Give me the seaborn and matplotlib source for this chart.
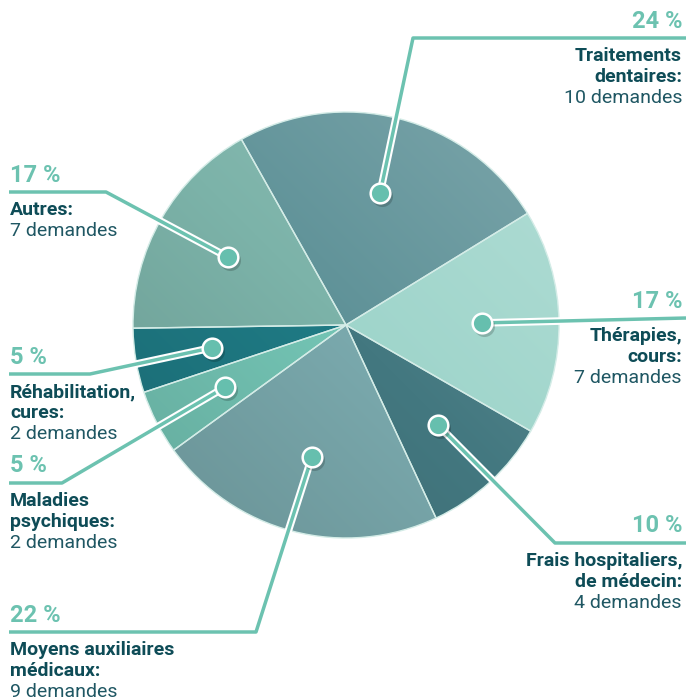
import numpy as np
import matplotlib
matplotlib.use("Agg")
import matplotlib.pyplot as plt
import matplotlib.patheffects as pe
from matplotlib.colors import to_rgb
import seaborn as sns

# data
categories = ["Traitements\ndentaires:", "Thérapies,\ncours:", "Frais hospitaliers,\nde médecin:",
              "Moyens auxiliaires\nmédicaux:", "Maladies\npsychiques:", "Réhabilitation,\ncures:", "Autres:"]
demandes = [10, 7, 4, 9, 2, 2, 7]
colors = ["#5f9298", "#9fd5cb", "#437880", "#7aa9ad", "#74c5b5", "#1f7b85", "#7cb3a9"]

# label layout in pixel coords (top-left origin): elbow point, line y, side
elbows = [(413, 38), None, (555, 543), (256, 632), (62, 483), (90, 374), (106, 192)]
line_y = [38, 318, 543, 632, 483, 374, 192]
sides = ["right", "right", "right", "left", "left", "left", "left"]

W, H = 686, 700
TEAL = "#6cc2b0"
DARK = "#0e4c57"
MID = "#1f5763"

sns.set_theme(style="white")
plt.rcParams["font.family"] = ["Roboto", "DejaVu Sans"]

fig = plt.figure(figsize=(W / 100, H / 100), dpi=100)
ax = fig.add_axes([0, 0, 1, 1])
ax.set_aspect("equal")
ax.axis("off")

cx, cy, r = 346, H - 325, 213
wedges, _ = ax.pie(demandes, colors=colors, startangle=119.4, counterclock=False,
                   center=(cx, cy), radius=r,
                   wedgeprops=dict(edgecolor="#d4ece7", linewidth=1.0))

# soft diagonal shading inside each wedge (darker lower-left, lighter upper-right)
gx, gy = np.meshgrid(np.linspace(-1, 1, 200), np.linspace(-1, 1, 200))
t = np.clip((gx + gy) / 2.0, -1, 1)[..., None]
for w, c in zip(wedges, colors):
    base = np.array(to_rgb(c))
    dark = base * 0.86
    light = base + (1 - base) * 0.18
    img = np.where(t < 0, base + (base - dark) * t, base + (light - base) * t)
    im = ax.imshow(np.clip(img, 0, 1), extent=[cx - r, cx + r, cy - r, cy + r],
                   origin="lower", interpolation="bilinear", zorder=1.5)
    im.set_clip_path(w)
    w.set_facecolor("none")
    w.set_zorder(2)

ax.set_xlim(0, W)
ax.set_ylim(0, H)

total = sum(demandes)
line_fx = [pe.Stroke(linewidth=5.5, foreground="white"), pe.Normal()]

for i, w in enumerate(wedges):
    mid = np.deg2rad((w.theta1 + w.theta2) / 2)
    dx = cx + 0.64 * r * np.cos(mid)
    dy = cy + 0.64 * r * np.sin(mid)
    ly = H - line_y[i]
    if sides[i] == "right":
        end_x, tx, ha = W, W - 4, "right"
    else:
        end_x, tx, ha = 9, 10, "left"
    xs, ys = [dx], [dy]
    if elbows[i] is not None:
        xs.append(elbows[i][0])
        ys.append(H - elbows[i][1])
    xs.append(end_x)
    ys.append(ly)
    ax.plot(xs, ys, color=TEAL, lw=2.5, solid_capstyle="butt", path_effects=line_fx, zorder=3)
    # dot with soft shadow
    ax.scatter([dx + 2], [dy - 3], s=230, color="black", alpha=0.18, lw=0, zorder=4)
    ax.scatter([dx], [dy], s=200, color="#66bfae", edgecolor="white", linewidth=1.8, zorder=5)

    pct = round(100 * demandes[i] / total)
    ax.text(tx, ly + 17, f"{pct} %", ha=ha, va="center", fontsize=17,
            fontweight="semibold", color=TEAL)
    lines = categories[i].split("\n")
    y = ly - 18
    for tline in lines:
        ax.text(tx, y, tline, ha=ha, va="center", fontsize=14, fontweight="bold", color=DARK)
        y -= 21
    ax.text(tx, y, f"{demandes[i]} demandes", ha=ha, va="center", fontsize=14, color=MID)

fig.savefig("out.png", dpi=100)
